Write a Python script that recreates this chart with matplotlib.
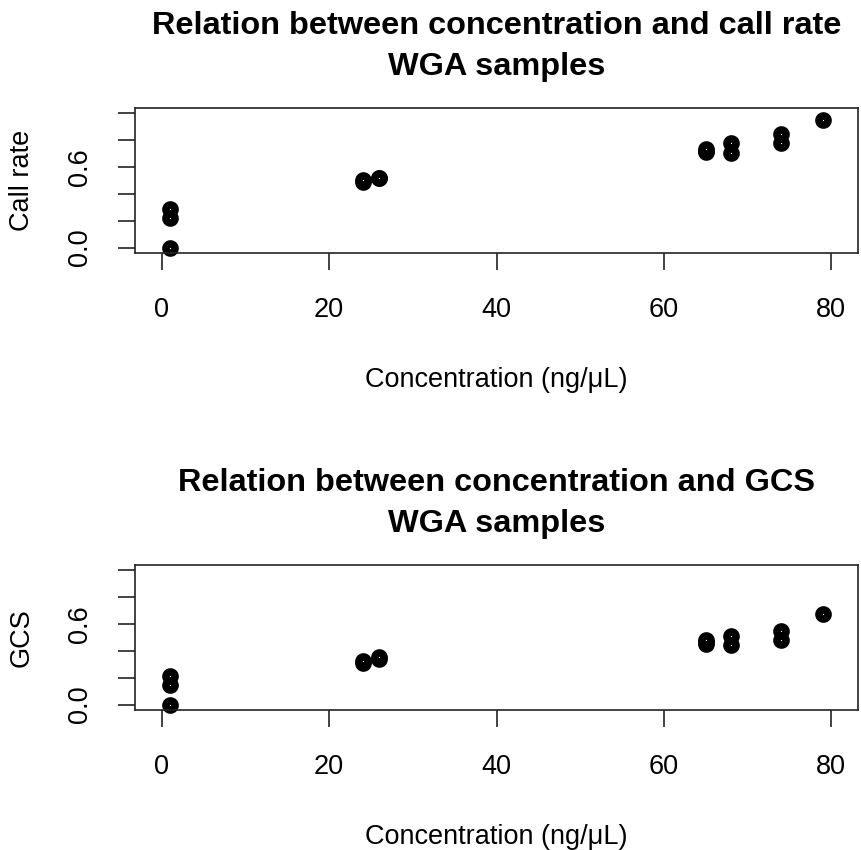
import matplotlib
matplotlib.use("Agg")
import matplotlib.pyplot as plt

# Sample data: DNA concentration vs. genotyping quality for WGA samples
concentration = [1, 1, 1, 24, 24, 26, 26, 65, 65, 65, 68, 68, 74, 74, 79]
call_rate = [0.0, 0.224, 0.291, 0.49, 0.505, 0.515, 0.515,
             0.71, 0.722, 0.735, 0.704, 0.778, 0.781, 0.846, 0.95]
gcs = [0.0, 0.143, 0.21, 0.31, 0.325, 0.34, 0.352,
       0.455, 0.47, 0.485, 0.444, 0.511, 0.48, 0.55, 0.672]

x_ticks = [0, 20, 40, 60, 80]
x_tick_labels = ["0", "20", "40", "60", "80"]
y_ticks = [0.0, 0.2, 0.4, 0.6, 0.8, 1.0]
y_tick_labels = ["0.0", "", "", "0.6", "", ""]

panels = [
    ("Call rate", call_rate, "Relation between concentration and call rate\nWGA samples"),
    ("GCS", gcs, "Relation between concentration and GCS\nWGA samples"),
]

W, H = 861, 850
DPI = 100
plt.rcParams["font.family"] = ["Liberation Sans", "DejaVu Sans"]

fig = plt.figure(figsize=(W / DPI, H / DPI), dpi=DPI)
fig.patch.set_facecolor("white")

box_left, box_right = 135, 858
box_tops = [108, 565]
box_h = 145
fs = 19.5
title_fs = 23.4
line_c = "#222222"

def fx(px):
    return px / W

def fy(py):
    return 1 - py / H

for (ylabel, yvals, title), top in zip(panels, box_tops):
    ax = fig.add_axes([fx(box_left), fy(top + box_h),
                       (box_right - box_left) / W, box_h / H])
    ax.plot(concentration, yvals, linestyle="none", marker="o",
            markersize=6.6, markeredgewidth=5.4,
            markerfacecolor="white", markeredgecolor="black", clip_on=False)
    ax.set_xlim(-3.2, 83.2)
    ax.set_ylim(-0.04, 1.04)
    ax.set_xticks(x_ticks)
    ax.set_xticklabels(x_tick_labels, fontsize=fs)
    ax.set_yticks(y_ticks)
    ax.set_yticklabels(y_tick_labels, fontsize=fs, rotation=90, va="center")
    ax.tick_params(axis="both", length=12, width=1.2, color=line_c)
    ax.tick_params(axis="x", pad=20)
    ax.tick_params(axis="y", pad=18)
    for s in ax.spines.values():
        s.set_linewidth(1.2)
        s.set_color(line_c)

    cx = (box_left + box_right) / 2
    line1, line2 = title.split("\n")
    fig.text(fx(cx), fy(top - 74), line1, ha="center", va="baseline",
             fontsize=title_fs, fontweight="bold")
    fig.text(fx(cx), fy(top - 33), line2, ha="center", va="baseline",
             fontsize=title_fs, fontweight="bold")
    fig.text(fx(cx), fy(top + 279), "Concentration (ng/μL)", ha="center",
             va="baseline", fontsize=fs)
    fig.text(fx(22), fy(top + box_h / 2), ylabel, ha="center", va="center",
             rotation=90, fontsize=fs)

fig.savefig("out.png", dpi=DPI, facecolor="white")
